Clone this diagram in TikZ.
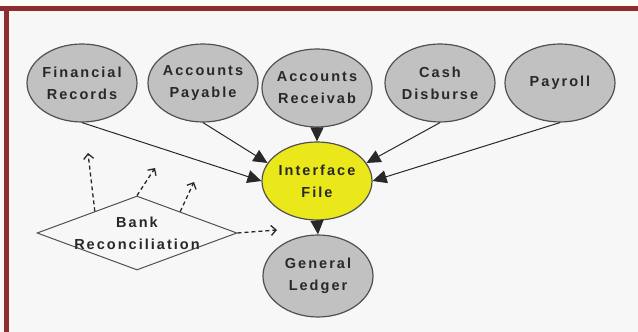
\documentclass[tikz,border=0pt]{standalone}
\usepackage{fontspec}
\setmainfont{Liberation Sans}[LetterSpace=14]
\usepackage{xcolor}
\usetikzlibrary{shapes.geometric, arrows.meta, positioning, calc}
\definecolor{framered}{RGB}{142, 44, 47}
\definecolor{paperbg}{RGB}{247, 247, 247}
\definecolor{topstrip}{RGB}{253, 253, 248}
\definecolor{modulegray}{RGB}{193, 193, 193}
\definecolor{hubyellow}{RGB}{234, 232, 26}
\definecolor{edgegray}{RGB}{80, 80, 80}
\definecolor{inkblack}{RGB}{40, 40, 40}

\tikzset{
    module/.style={ellipse, draw=edgegray, line width=1.2pt, fill=modulegray,
        minimum width=110pt, minimum height=78pt, inner sep=0pt},
    caption/.style={font=\fontsize{14.5}{22}\selectfont\bfseries, text=inkblack, align=center},
    feed/.style={-{Triangle[length=14pt, width=13pt]}, line width=1pt, inkblack},
    hint/.style={-{Straight Barb[length=5pt, width=10pt]}, line width=1.3pt,
        inkblack, dash pattern=on 4pt off 3pt}
}

\begin{document}
\begin{tikzpicture}[x=10pt, y=10pt]
            % Page and frame
            \useasboundingbox (0, 0) rectangle (63.8, 33.2);
            \fill[paperbg] (0, 0) rectangle (63.8, 33.2);
            \fill[topstrip] (0, 32.55) rectangle (63.8, 33.2);
            \fill[framered] (0, 32.05) rectangle (63.8, 32.55);
            \fill[framered] (0.4, 0) rectangle (0.9, 32.55);

            % Source modules
            \node[module, label={[caption]center:Financial\\Records}] (fin) at (8.2, 24.9) {};
            \node[module, label={[caption]center:Accounts\\Payable}] (pay) at (20.3, 24.9) {};
            \node[module, label={[caption]center:Accounts\\Receivab}] (rec) at (31.7, 24.4) {};
            \node[module, label={[caption]center:Cash\\Disburse}] (cash) at (44.0, 24.9) {};
            \node[module, label={[caption]center:Payroll}] (payroll) at (56.0, 24.9) {};

            % Interface and ledger
            \node[module, fill=hubyellow, label={[caption]center:Interface\\File}] (iface) at (31.7, 15.1) {};
            \node[module, minimum height=82pt, label={[caption]center:General\\Ledger}] (gl) at (31.8, 5.6) {};

            % Reconciliation step
            \node[diamond, draw=edgegray, line width=1pt, minimum width=200pt, minimum height=74pt,
                inner sep=0pt, label={[caption]center:Bank\\Reconciliation}] (bank) at (13.7, 9.9) {};

            % Feeds into the interface file
            \draw[feed] (fin.south) -- (iface.west);
            \draw[feed] (pay.south) -- (iface.160);
            \draw[feed] (rec.south) -- (iface.north);
            \draw[feed] (cash.south) -- (iface.20);
            \draw[feed] (payroll.south) -- (iface.east);
            \draw[feed] (iface.south) -- (gl.north);

            % Loose dashed pointers
            \coordinate (p1) at (8.8, 17.9);
            \coordinate (p2) at (15.5, 16.4);
            \coordinate (p3) at (19.4, 15.0);
            \coordinate (p4) at (27.7, 10.2);
            \draw[hint] ($(bank.west)!0.58!(bank.north)$) -- (p1);
            \draw[hint] (bank.north) -- (p2);
            \draw[hint] ($(bank.north)!0.43!(bank.east)$) -- (p3);
            \draw[hint] (bank.east) -- (p4);
        \end{tikzpicture}
\end{document}
